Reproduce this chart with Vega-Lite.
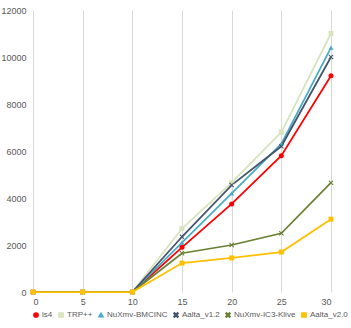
{
  "$schema": "https://vega.github.io/schema/vega-lite/v6.json",
  "autosize": "none",
  "width": 298,
  "height": 282,
  "padding": {"left": 33, "top": 10, "right": 20, "bottom": 36},
  "background": "white",
  "config": {
    "view": {"stroke": null},
    "font": "Liberation Sans",
    "axis": {"labelFont": "Liberation Sans", "labelColor": "#595959", "labelFontSize": 9, "title": null}
  },
  "data": {
    "values": [
      {"t": 0, "v": 0, "s": "ls4"}, {"t": 5, "v": 0, "s": "ls4"}, {"t": 10, "v": 0, "s": "ls4"}, {"t": 15, "v": 1900, "s": "ls4"}, {"t": 20, "v": 3750, "s": "ls4"}, {"t": 25, "v": 5800, "s": "ls4"}, {"t": 30, "v": 9200, "s": "ls4"},
      {"t": 0, "v": 0, "s": "TRP++"}, {"t": 5, "v": 0, "s": "TRP++"}, {"t": 10, "v": 0, "s": "TRP++"}, {"t": 15, "v": 2700, "s": "TRP++"}, {"t": 20, "v": 4650, "s": "TRP++"}, {"t": 25, "v": 6800, "s": "TRP++"}, {"t": 30, "v": 11000, "s": "TRP++"},
      {"t": 0, "v": 0, "s": "NuXmv-BMCINC"}, {"t": 5, "v": 0, "s": "NuXmv-BMCINC"}, {"t": 10, "v": 0, "s": "NuXmv-BMCINC"}, {"t": 15, "v": 2100, "s": "NuXmv-BMCINC"}, {"t": 20, "v": 4200, "s": "NuXmv-BMCINC"}, {"t": 25, "v": 6300, "s": "NuXmv-BMCINC"}, {"t": 30, "v": 10400, "s": "NuXmv-BMCINC"},
      {"t": 0, "v": 0, "s": "Aalta_v1.2"}, {"t": 5, "v": 0, "s": "Aalta_v1.2"}, {"t": 10, "v": 0, "s": "Aalta_v1.2"}, {"t": 15, "v": 2350, "s": "Aalta_v1.2"}, {"t": 20, "v": 4550, "s": "Aalta_v1.2"}, {"t": 25, "v": 6200, "s": "Aalta_v1.2"}, {"t": 30, "v": 10000, "s": "Aalta_v1.2"},
      {"t": 0, "v": 0, "s": "NuXmv-IC3-Klive"}, {"t": 5, "v": 0, "s": "NuXmv-IC3-Klive"}, {"t": 10, "v": 0, "s": "NuXmv-IC3-Klive"}, {"t": 15, "v": 1650, "s": "NuXmv-IC3-Klive"}, {"t": 20, "v": 2000, "s": "NuXmv-IC3-Klive"}, {"t": 25, "v": 2500, "s": "NuXmv-IC3-Klive"}, {"t": 30, "v": 4650, "s": "NuXmv-IC3-Klive"},
      {"t": 0, "v": 0, "s": "Aalta_v2.0"}, {"t": 5, "v": 0, "s": "Aalta_v2.0"}, {"t": 10, "v": 0, "s": "Aalta_v2.0"}, {"t": 15, "v": 1230, "s": "Aalta_v2.0"}, {"t": 20, "v": 1450, "s": "Aalta_v2.0"}, {"t": 25, "v": 1700, "s": "Aalta_v2.0"}, {"t": 30, "v": 3100, "s": "Aalta_v2.0"}
    ]
  },
  "encoding": {
    "x": {
      "field": "t", "type": "quantitative",
      "scale": {"domain": [0, 30], "nice": false, "zero": false},
      "axis": {"values": [0, 5, 10, 15, 20, 25, 30], "grid": true, "gridColor": "#d9d9d9", "gridWidth": 1, "domain": false, "ticks": false, "labelPadding": 5}
    },
    "y": {
      "field": "v", "type": "quantitative",
      "scale": {"domain": [0, 12000], "nice": false},
      "axis": {"values": [0, 2000, 4000, 6000, 8000, 10000, 12000], "format": "d", "grid": false, "domain": false, "ticks": false, "labelPadding": 7}
    },
    "color": {
      "field": "s", "type": "nominal",
      "scale": {
        "domain": ["ls4", "TRP++", "NuXmv-BMCINC", "Aalta_v1.2", "NuXmv-IC3-Klive", "Aalta_v2.0"],
        "range": ["#ff0000", "#d7e4bd", "#4bacc6", "#44546a", "#6b8034", "#ffc000"]
      },
      "legend": {
        "orient": "none", "legendX": -1, "legendY": 301, "direction": "horizontal", "columns": 6, "gridAlign": "none", "title": null,
        "labelFontSize": 8, "labelColor": "#595959", "labelFont": "Liberation Sans",
        "symbolSize": 18, "labelOffset": 2, "columnPadding": 2, "symbolStrokeWidth": 1.5, "padding": 0
      }
    },
    "shape": {
      "field": "s", "type": "nominal",
      "scale": {
        "domain": ["ls4", "TRP++", "NuXmv-BMCINC", "Aalta_v1.2", "NuXmv-IC3-Klive", "Aalta_v2.0"],
        "range": ["circle", "square", "triangle-up", "M-1,-0.7L-0.7,-1L0,-0.3L0.7,-1L1,-0.7L0.3,0L1,0.7L0.7,1L0,0.3L-0.7,1L-1,0.7L-0.3,0Z", "M-1,-0.7L-0.7,-1L0,-0.3L0.7,-1L1,-0.7L0.3,0L1,0.7L0.7,1L0,0.3L-0.7,1L-1,0.7L-0.3,0Z", "square"]
      },
      "legend": null
    }
  },
  "layer": [
    {"mark": {"type": "line", "strokeWidth": 1.75}, "encoding": {"shape": null}},
    {"mark": {"type": "point", "filled": true, "size": 25, "opacity": 1}}
  ]
}
